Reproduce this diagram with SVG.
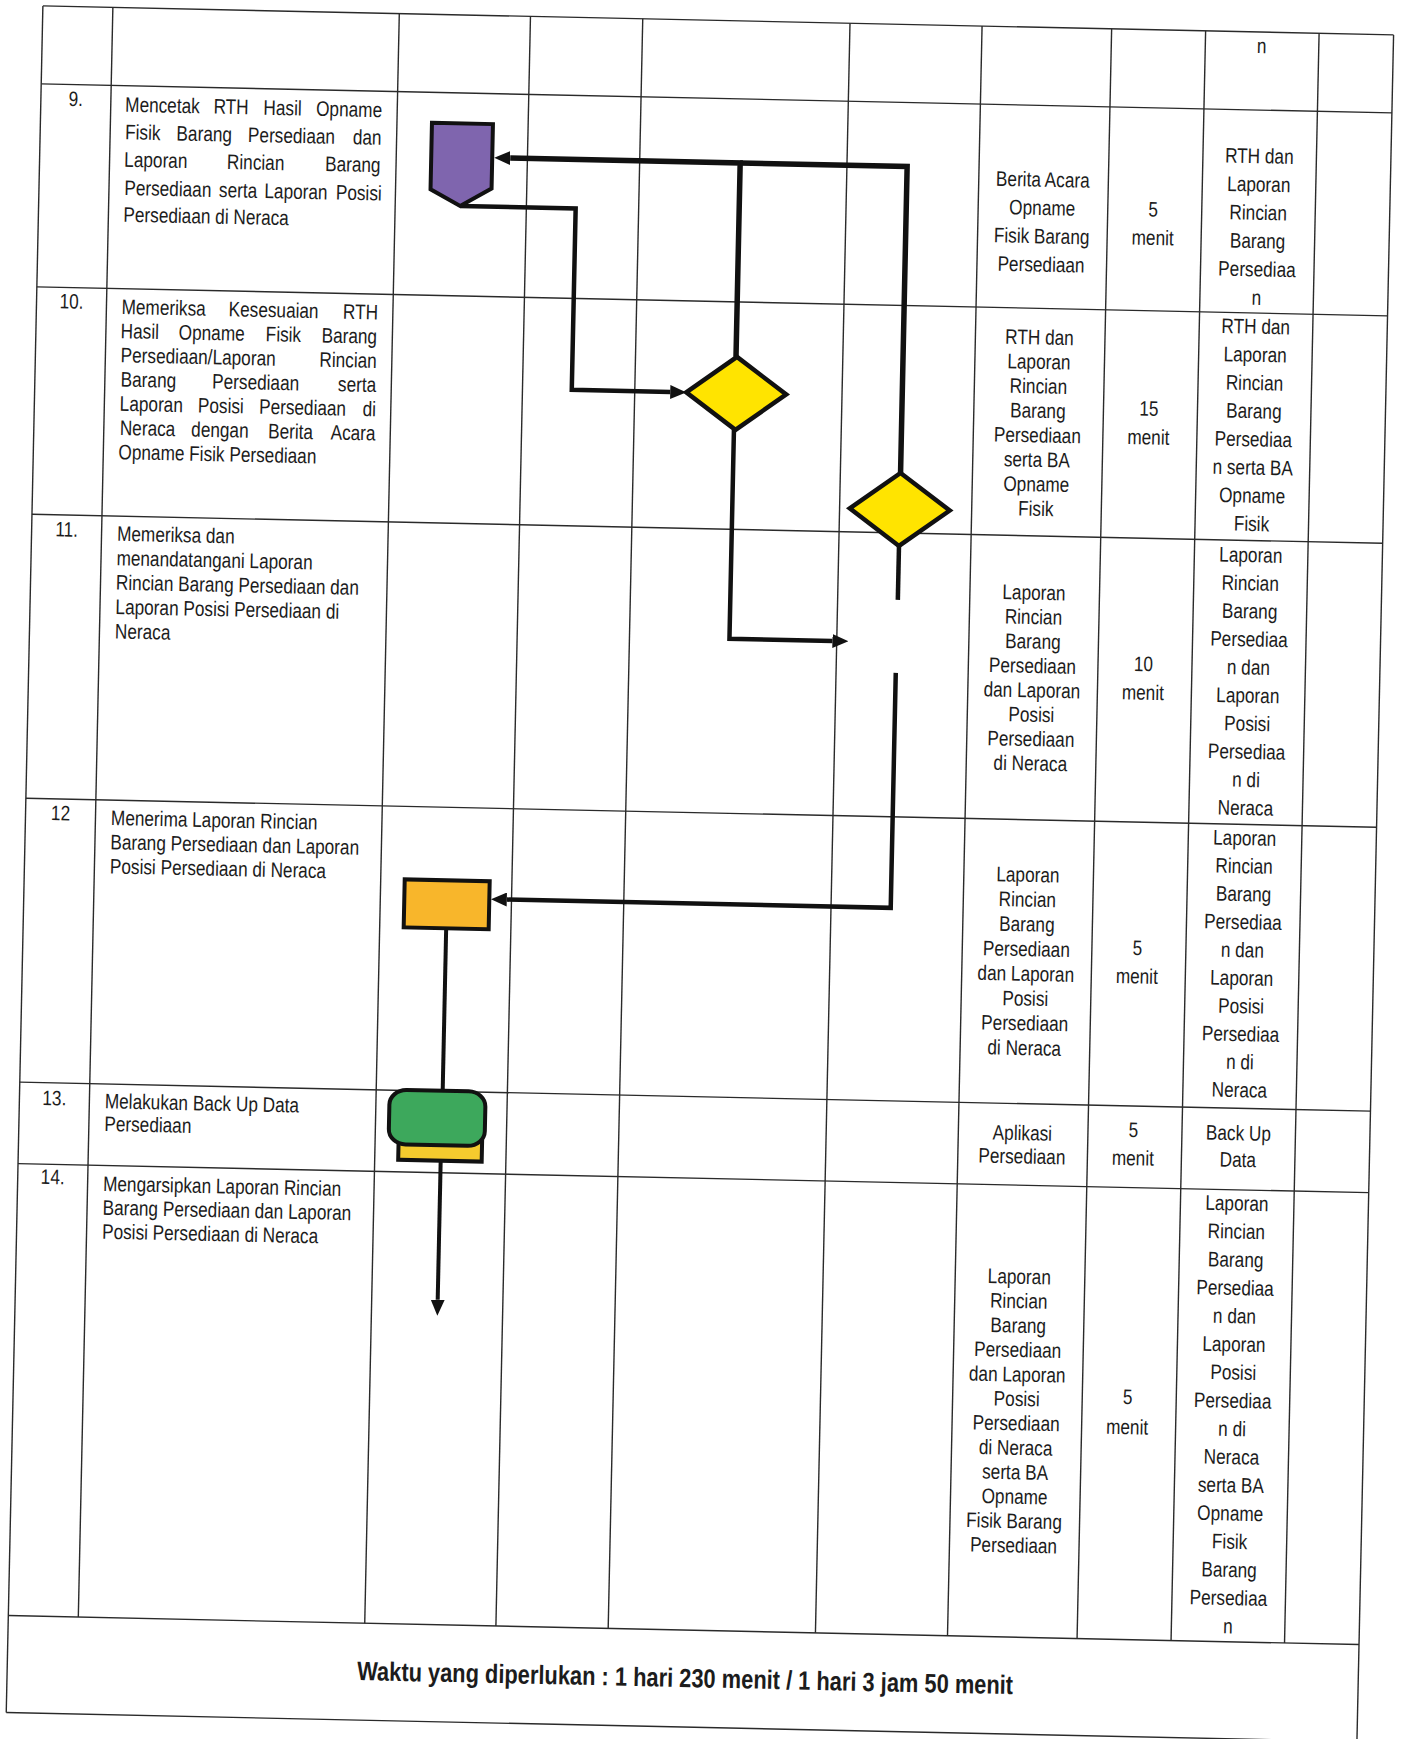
<svg xmlns="http://www.w3.org/2000/svg" width="1402" height="1739" viewBox="0 0 1402 1739">
<style>
.g line{stroke:#2a2a2a;stroke-width:1.4}
.t{font-family:"Liberation Sans",Arial,sans-serif;font-size:21px;fill:#1c1c1c}
.c{text-anchor:middle}
.b{font-weight:bold;font-size:26.5px}
.cn{fill:none;stroke:#111;stroke-width:4.5}
.thick{stroke-width:5.5}
.nd{stroke:#111;stroke-width:4}
</style>
<defs>
<marker id="ah" markerWidth="16" markerHeight="14" refX="0" refY="7" orient="auto" markerUnits="userSpaceOnUse"><path d="M0,0 L16,7 L0,14 Z" fill="#111"/></marker>
</defs>
<rect width="1402" height="1739" fill="#fff"/>
<g transform="rotate(1.23)">
<g id="grid" class="g">
<line x1="43" y1="5" x2="1394" y2="5"/>
<line x1="43" y1="83" x2="1394" y2="83"/>
<line x1="43" y1="286" x2="1394" y2="286"/>
<line x1="43" y1="513.5" x2="1394" y2="513.5"/>
<line x1="43" y1="797.5" x2="1394" y2="797.5"/>
<line x1="43" y1="1081.5" x2="1394" y2="1081.5"/>
<line x1="43" y1="1163" x2="1394" y2="1163"/>
<line x1="43" y1="1615" x2="1394" y2="1615"/>
<line x1="43" y1="1712" x2="1394" y2="1712"/>
<line x1="43" y1="5" x2="43" y2="1712"/>
<line x1="1394" y1="5" x2="1394" y2="1712"/>
<line x1="113" y1="5" x2="113" y2="1615"/>
<line x1="399.5" y1="5" x2="399.5" y2="1615"/>
<line x1="530.7" y1="5" x2="530.7" y2="1615"/>
<line x1="643" y1="5" x2="643" y2="1615"/>
<line x1="850.3" y1="5" x2="850.3" y2="1615"/>
<line x1="982.4" y1="5" x2="982.4" y2="1615"/>
<line x1="1112" y1="5" x2="1112" y2="1615"/>
<line x1="1206" y1="5" x2="1206" y2="1615"/>
<line x1="1319.5" y1="5" x2="1319.5" y2="1615"/>
</g>
<g id="connectors">
<path class="cn" d="M464.5,196 H580 V377.5 H678.5" marker-end="url(#ah)"/>
<path class="cn thick" d="M743.5,341 V147 H513.5" marker-end="url(#ah)"/>
<path class="cn thick" d="M910.5,453.5 V147 H743.5"/>
<path class="cn" d="M743,414 V623 H846" marker-end="url(#ah)"/>
<path class="cn" d="M910.5,526.5 V580.5"/>
<path class="cn" d="M910,653.5 V888.5 H526" marker-end="url(#ah)"/>
<path class="cn" d="M466,918.5 V1081" style="stroke-width:4"/>
<path class="cn" d="M465.5,1151 V1290" style="stroke-width:4" marker-end="url(#ah)"/>
</g>
<g id="node9"><path class="nd" d="M434.5,113.5 H495.5 V178 L464.5,196 L434.5,180 Z" fill="#7F65AE"/></g>
<g id="node10"><path class="nd" d="M744.5,341 L794.5,377.5 L744.5,414 L694.5,377.5 Z" fill="#FFE400" style="stroke-width:4.5"/></g>
<g id="node11"><path class="nd" d="M910.5,453.5 L960.5,490 L910.5,526.5 L860.5,490 Z" fill="#FFE400" style="stroke-width:4.5"/></g>
<g id="node12"><rect class="nd" x="423.5" y="870.5" width="85" height="48" fill="#F8B62B"/></g>
<g id="node13">
<rect class="nd" x="423" y="1114" width="83.5" height="37" fill="#F5CB2E"/>
<rect class="nd" x="413" y="1081" width="96" height="54.5" rx="17" ry="15" fill="#3DA85C"/>
</g>
<g id="texts" transform="scale(0.82,1)">
<g class="t c">
<text x="95.1" y="104.4">9.</text>
<text x="95.1" y="307">10.</text>
<text x="95.1" y="535">11.</text>
<text x="95.1" y="818.7">12</text>
<text x="95.1" y="1103.8">13.</text>
<text x="95.1" y="1182.6">14.</text>
</g>
<g class="t">
<text y="109"><tspan x="155.4">Mencetak</tspan><tspan x="263.2">RTH</tspan><tspan x="324.1">Hasil</tspan><tspan x="388.3">Opname</tspan></text>
<text y="136.6"><tspan x="156.1">Fisik</tspan><tspan x="218.7">Barang</tspan><tspan x="305.9">Persediaan</tspan><tspan x="433.8">dan</tspan></text>
<text y="164"><tspan x="155.7">Laporan</tspan><tspan x="281">Rincian</tspan><tspan x="400.7">Barang</tspan></text>
<text y="192.3"><tspan x="156.5">Persediaan</tspan><tspan x="272">serta</tspan><tspan x="327.4">Laporan</tspan><tspan x="414.5">Posisi</tspan></text>
<text x="156.1" y="219">Persediaan di Neraca</text>
<text y="311.3"><tspan x="156.3">Memeriksa</tspan><tspan x="286.9">Kesesuaian</tspan><tspan x="426.3">RTH</tspan></text>
<text y="335.5"><tspan x="155.9">Hasil</tspan><tspan x="226.6">Opname</tspan><tspan x="332.8">Fisik</tspan><tspan x="400.9">Barang</tspan></text>
<text y="359.7"><tspan x="156.5">Persediaan/Laporan</tspan><tspan x="398.8">Rincian</tspan></text>
<text y="383.9"><tspan x="157.1">Barang</tspan><tspan x="268.7">Persediaan</tspan><tspan x="422.2">serta</tspan></text>
<text y="408.1"><tspan x="156.6">Laporan</tspan><tspan x="251.9">Posisi</tspan><tspan x="326.5">Persediaan</tspan><tspan x="452.8">di</tspan></text>
<text y="432.3"><tspan x="157.3">Neraca</tspan><tspan x="244.4">dengan</tspan><tspan x="338.2">Berita</tspan><tspan x="414.4">Acara</tspan></text>
<text x="156.3" y="456.5">Opname Fisik Persediaan</text>
<text x="156.7" y="538.2">Memeriksa dan</text>
<text x="156.7" y="562.6">menandatangani Laporan</text>
<text x="156.7" y="587">Rincian Barang Persediaan dan</text>
<text x="156.7" y="611.4">Laporan Posisi Persediaan di</text>
<text x="156.7" y="635.8">Neraca</text>
<text x="156.7" y="822.5">Menerima Laporan Rincian</text>
<text x="156.7" y="846.7">Barang Persediaan dan Laporan</text>
<text x="156.7" y="870.9">Posisi Persediaan di Neraca</text>
<text x="156.7" y="1105.8">Melakukan Back Up Data</text>
<text x="156.7" y="1128.5">Persediaan</text>
<text x="156.7" y="1188.4">Mengarsipkan Laporan Rincian</text>
<text x="156.7" y="1212.3">Barang Persediaan dan Laporan</text>
<text x="156.7" y="1236.2">Posisi Persediaan di Neraca</text>
</g>
<g class="t c">
<text x="1539.6" y="26">n</text>
<text x="1276.2" y="164.3">Berita Acara</text>
<text x="1276.2" y="192.6">Opname</text>
<text x="1276.2" y="220.9">Fisik Barang</text>
<text x="1276.2" y="249.2">Persediaan</text>
<text x="1411.6" y="191.9">5</text>
<text x="1411.6" y="220.2">menit</text>
<text x="1539.6" y="136.2">RTH dan</text>
<text x="1539.6" y="164.5">Laporan</text>
<text x="1539.6" y="192.8">Rincian</text>
<text x="1539.6" y="221.1">Barang</text>
<text x="1539.6" y="249.4">Persediaa</text>
<text x="1539.6" y="277.7">n</text>
<text x="1276.2" y="322">RTH dan</text>
<text x="1276.2" y="346.5">Laporan</text>
<text x="1276.2" y="371">Rincian</text>
<text x="1276.2" y="395.5">Barang</text>
<text x="1276.2" y="420">Persediaan</text>
<text x="1276.2" y="444.5">serta BA</text>
<text x="1276.2" y="469">Opname</text>
<text x="1276.2" y="493.5">Fisik</text>
<text x="1411.6" y="391">15</text>
<text x="1411.6" y="419.6">menit</text>
<text x="1539.6" y="306.6">RTH dan</text>
<text x="1539.6" y="334.8">Laporan</text>
<text x="1539.6" y="363">Rincian</text>
<text x="1539.6" y="391.2">Barang</text>
<text x="1539.6" y="419.4">Persediaa</text>
<text x="1539.6" y="447.6">n serta BA</text>
<text x="1539.6" y="475.8">Opname</text>
<text x="1539.6" y="504">Fisik</text>
<text x="1276.2" y="577.4">Laporan</text>
<text x="1276.2" y="601.8">Rincian</text>
<text x="1276.2" y="626.2">Barang</text>
<text x="1276.2" y="650.6">Persediaan</text>
<text x="1276.2" y="675">dan Laporan</text>
<text x="1276.2" y="699.4">Posisi</text>
<text x="1276.2" y="723.8">Persediaan</text>
<text x="1276.2" y="748.2">di Neraca</text>
<text x="1411.6" y="646.4">10</text>
<text x="1411.6" y="675">menit</text>
<text x="1539.6" y="535.2">Laporan</text>
<text x="1539.6" y="563.3">Rincian</text>
<text x="1539.6" y="591.4">Barang</text>
<text x="1539.6" y="619.5">Persediaa</text>
<text x="1539.6" y="647.6">n dan</text>
<text x="1539.6" y="675.7">Laporan</text>
<text x="1539.6" y="703.8">Posisi</text>
<text x="1539.6" y="731.9">Persediaa</text>
<text x="1539.6" y="760">n di</text>
<text x="1539.6" y="788.1">Neraca</text>
<text x="1276.2" y="859.6">Laporan</text>
<text x="1276.2" y="884.4">Rincian</text>
<text x="1276.2" y="909.1">Barang</text>
<text x="1276.2" y="933.9">Persediaan</text>
<text x="1276.2" y="958.6">dan Laporan</text>
<text x="1276.2" y="983.4">Posisi</text>
<text x="1276.2" y="1008.1">Persediaan</text>
<text x="1276.2" y="1032.9">di Neraca</text>
<text x="1411.6" y="930.6">5</text>
<text x="1411.6" y="958.9">menit</text>
<text x="1539.6" y="818.3">Laporan</text>
<text x="1539.6" y="846.3">Rincian</text>
<text x="1539.6" y="874.3">Barang</text>
<text x="1539.6" y="902.3">Persediaa</text>
<text x="1539.6" y="930.3">n dan</text>
<text x="1539.6" y="958.3">Laporan</text>
<text x="1539.6" y="986.3">Posisi</text>
<text x="1539.6" y="1014.3">Persediaa</text>
<text x="1539.6" y="1042.3">n di</text>
<text x="1539.6" y="1070.3">Neraca</text>
<text x="1276.2" y="1118">Aplikasi</text>
<text x="1276.2" y="1141.3">Persediaan</text>
<text x="1411.6" y="1112.4">5</text>
<text x="1411.6" y="1140.7">menit</text>
<text x="1539.6" y="1113.4">Back Up</text>
<text x="1539.6" y="1140.1">Data</text>
<text x="1276.2" y="1261.6">Laporan</text>
<text x="1276.2" y="1286">Rincian</text>
<text x="1276.2" y="1310.5">Barang</text>
<text x="1276.2" y="1334.9">Persediaan</text>
<text x="1276.2" y="1359.4">dan Laporan</text>
<text x="1276.2" y="1383.8">Posisi</text>
<text x="1276.2" y="1408.2">Persediaan</text>
<text x="1276.2" y="1432.7">di Neraca</text>
<text x="1276.2" y="1457.1">serta BA</text>
<text x="1276.2" y="1481.6">Opname</text>
<text x="1276.2" y="1506">Fisik Barang</text>
<text x="1276.2" y="1530.4">Persediaan</text>
<text x="1411.6" y="1379.6">5</text>
<text x="1411.6" y="1409.6">menit</text>
<text x="1539.6" y="1183.6">Laporan</text>
<text x="1539.6" y="1211.8">Rincian</text>
<text x="1539.6" y="1240">Barang</text>
<text x="1539.6" y="1268.2">Persediaa</text>
<text x="1539.6" y="1296.4">n dan</text>
<text x="1539.6" y="1324.6">Laporan</text>
<text x="1539.6" y="1352.8">Posisi</text>
<text x="1539.6" y="1381">Persediaa</text>
<text x="1539.6" y="1409.2">n di</text>
<text x="1539.6" y="1437.4">Neraca</text>
<text x="1539.6" y="1465.6">serta BA</text>
<text x="1539.6" y="1493.8">Opname</text>
<text x="1539.6" y="1522">Fisik</text>
<text x="1539.6" y="1550.2">Barang</text>
<text x="1539.6" y="1578.4">Persediaa</text>
<text x="1539.6" y="1606.6">n</text>
</g>
<text class="t b" x="479.3" y="1672" textLength="800" lengthAdjust="spacingAndGlyphs">Waktu yang diperlukan : 1 hari 230 menit / 1 hari 3 jam 50 menit</text>
</g>
</g>
</svg>
